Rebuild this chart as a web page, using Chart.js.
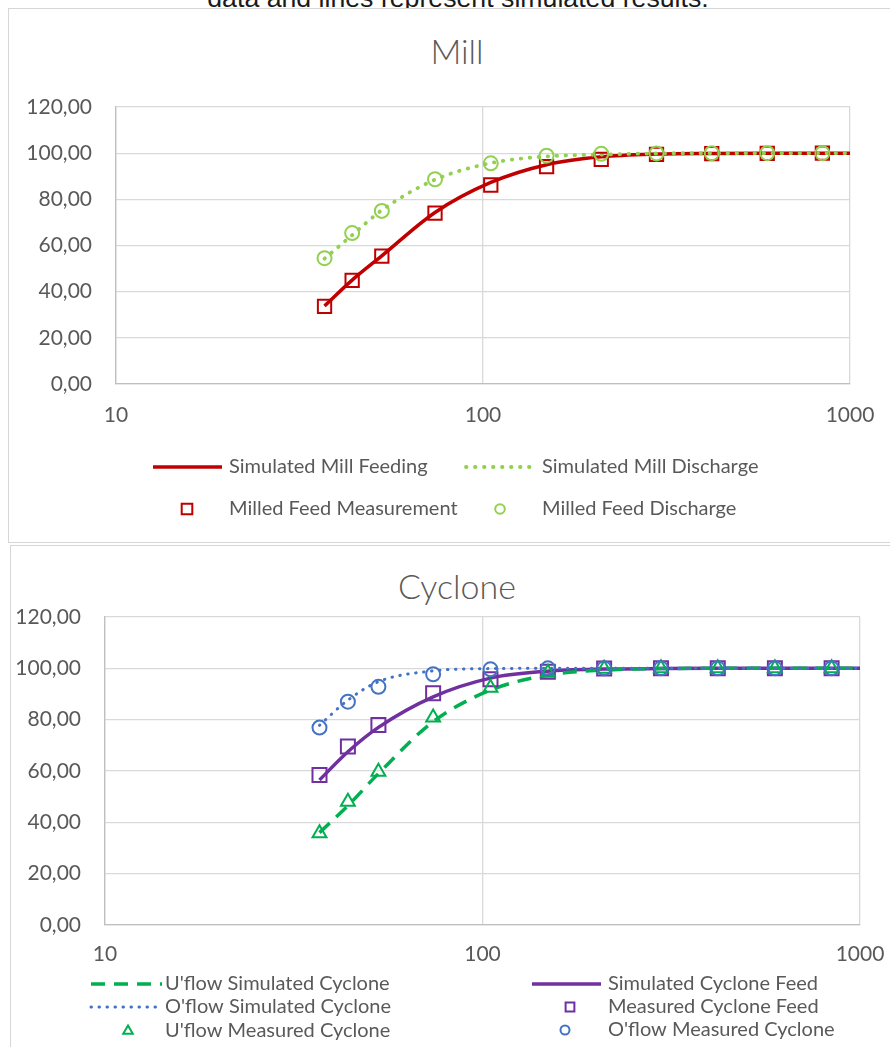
<!DOCTYPE html>
<html>
<head>
<meta charset="utf-8">
<script src="https://cdn.jsdelivr.net/npm/chart.js@4.4.0/dist/chart.umd.min.js"></script>
<style>
  body { margin: 0; background: #fff; width: 890px; height: 1047px; overflow: hidden; position: relative; }
  .caption { position: absolute; left: 0; width: 916px; top: -17px; text-align: center;
             font-family: "Liberation Sans", Arial, sans-serif; font-size: 26.7px; color: #1a1a1a; line-height: 30px; }
  .frame { position: absolute; border: 1px solid #D6D6D6; background: #fff; }
  .title { position: absolute; left: 0; width: 914px; text-align: center; font-family: Lato; font-weight: 300;
           font-size: 34px; line-height: 40px; color: #595959; }
  canvas { position: absolute; left: 0; }
</style>
</head>
<body>
<div class="caption">data and lines represent simulated results.</div>
<div class="frame" style="left:8px; top:8px; width:920px; height:533px;"></div>
<div class="frame" style="left:10px; top:545px; width:920px; height:560px;"></div>
<div class="title" style="top:31px">Mill</div>
<div class="title" style="top:566px">Cyclone</div>
<canvas id="mill" width="890" height="543" style="top:0"></canvas>
<canvas id="cyclone" width="890" height="504" style="top:543px"></canvas>
<script>
// particle sizes (Tyler series) - measured points, simulated curves run on to 1000
const sizes = [37, 44, 53, 74, 105, 149, 210, 297, 420, 595, 841];
const simSizes = [37, 44, 53, 74, 105, 149, 210, 297, 420, 595, 841, 1000];
const xTicks = [10, 100, 1000];

// Mill
const millFeedSim = [33.8, 45.0, 55.5, 74.3, 87.3, 95.0, 98.4, 99.6, 99.9, 100, 100, 100];
const millDischargeSim = [54.3, 64.5, 75.3, 88.5, 95.7, 98.6, 99.4, 99.9, 100, 100, 100, 100];
const millFeedMeas = [33.6, 44.9, 55.4, 74.0, 86.2, 94.2, 97.3, 99.5, 99.8, 99.9, 100];
const millDischargeMeas = [54.5, 65.4, 75.0, 88.7, 95.6, 98.9, 99.7, 99.9, 100, 100, 100];

// Cyclone
const uflowSim = [36.0, 46.5, 59.0, 79.2, 91.5, 97.4, 99.3, 99.9, 100, 100, 100, 100];
const cycFeedSim = [56.5, 67.5, 77.0, 88.9, 96.2, 98.9, 99.7, 99.9, 100, 100, 100, 100];
const oflowSim = [77.8, 87.6, 94.8, 99.0, 99.9, 100, 100, 100, 100, 100, 100, 100];
const cycFeedMeas = [58.4, 69.5, 77.9, 90.3, 95.7, 98.7, 99.9, 100, 100, 100, 100];
const uflowMeas = [35.7, 48.0, 59.7, 80.8, 92.4, 98.3, 99.8, 100, 100, 100, 100];
const oflowMeas = [76.9, 87.0, 92.8, 97.7, 99.6, 100, 100, 100, 100, 100, 100];

const textColor = '#595959';
const tickFont = { family: 'Lato', size: 21 };

function pts(xs, ys) {
    return ys.map((y, i) => ({ x: xs[i], y: y }));
}

// legend drawn in fixed rows/columns like the Excel one
const boxLegend = {
    id: 'boxLegend',
    afterDraw(chart, args, opts) {
        const ctx = chart.ctx;
        ctx.save();
        opts.items.forEach(it => {
            const ds = chart.data.datasets[it.index];
            if (ds.showLine) {
                ctx.beginPath();
                ctx.strokeStyle = ds.borderColor;
                ctx.lineWidth = ds.borderWidth;
                ctx.lineCap = ds.borderCapStyle || 'butt';
                ctx.setLineDash(ds.borderDash || []);
                ctx.moveTo(it.x0, it.y);
                ctx.lineTo(it.x1, it.y);
                ctx.stroke();
            } else {
                ctx.setLineDash([]);
                ctx.strokeStyle = ds.pointBorderColor;
                ctx.fillStyle = 'rgba(0,0,0,0)';
                ctx.lineWidth = ds.pointBorderWidth;
                Chart.helpers.drawPoint(ctx, { pointStyle: ds.pointStyle, radius: it.r, borderWidth: ds.pointBorderWidth, rotation: 0 }, it.x0, it.y);
            }
            ctx.setLineDash([]);
            ctx.font = opts.font;
            ctx.textBaseline = 'middle';
            ctx.textAlign = 'left';
            ctx.fillStyle = textColor;
            ctx.fillText(ds.label, it.tx, it.y);
        });
        ctx.restore();
    }
};

function makeOptions(cfg) {
    return {
        responsive: false,
        animation: false,
        devicePixelRatio: 1,
        layout: { padding: { left: 0, right: cfg.padRight, top: cfg.padTop, bottom: 0 } },
        scales: {
            x: {
                type: 'logarithmic',
                min: 10,
                max: 1000,
                afterBuildTicks: (scale) => { scale.ticks = xTicks.map(v => ({ value: v })); },
                afterFit: (scale) => {
                    scale.height = cfg.xHeight;
                    // labels overhang into the layout padding, don't let them shrink the plot
                    scale.paddingLeft = 0;
                    scale.paddingRight = 0;
                },
                grid: { color: '#D9D9D9', lineWidth: 1.3, drawTicks: false },
                border: { color: '#BFBFBF', width: 1.3 },
                ticks: { color: textColor, font: tickFont, padding: cfg.xPad, maxRotation: 0, autoSkip: false,
                         callback: (v) => String(v) }
            },
            y: {
                min: 0,
                max: 120,
                afterFit: (scale) => { scale.width = cfg.yWidth; },
                grid: { color: '#D9D9D9', lineWidth: 1.3, drawTicks: false },
                border: { color: '#BFBFBF', width: 1.3 },
                ticks: { stepSize: 20, color: textColor, font: tickFont, padding: 24,
                         callback: (v) => v.toFixed(2).replace('.', ',') }
            }
        },
        plugins: {
            legend: { display: false },
            tooltip: { enabled: false },
            boxLegend: { font: '20px Lato', items: cfg.legend }
        }
    };
}

new Chart(document.getElementById('mill'), {
    type: 'scatter',
    data: {
        datasets: [
            { label: 'Simulated Mill Feeding', data: pts(simSizes, millFeedSim), showLine: true,
              borderColor: '#C00000', borderWidth: 3.5, pointRadius: 0, cubicInterpolationMode: 'monotone', order: 4 },
            { label: 'Simulated Mill Discharge', data: pts(simSizes, millDischargeSim), showLine: true,
              borderColor: '#92D050', borderWidth: 3.8, borderDash: [0.5, 8.5], borderCapStyle: 'round',
              pointRadius: 0, cubicInterpolationMode: 'monotone', order: 3 },
            { label: 'Milled Feed Measurement', data: pts(sizes, millFeedMeas), showLine: false,
              pointStyle: 'rect', pointRadius: 9.4, pointBorderColor: '#C00000', pointBorderWidth: 2,
              pointBackgroundColor: 'rgba(0,0,0,0)', order: 2 },
            { label: 'Milled Feed Discharge', data: pts(sizes, millDischargeMeas), showLine: false,
              pointStyle: 'circle', pointRadius: 7, pointBorderColor: '#92D050', pointBorderWidth: 2,
              pointBackgroundColor: 'rgba(0,0,0,0)', order: 1 }
        ]
    },
    options: makeOptions({
        padRight: 40, padTop: 107, xHeight: 159, xPad: 19, yWidth: 116,
        legend: [
            { index: 0, x0: 153, x1: 222, y: 467, tx: 229 },
            { index: 1, x0: 466, x1: 536, y: 467, tx: 542 },
            { index: 2, x0: 187, y: 509, r: 7.5, tx: 229 },
            { index: 3, x0: 500, y: 509, r: 4.8, tx: 542 }
        ]
    }),
    plugins: [boxLegend]
});

new Chart(document.getElementById('cyclone'), {
    type: 'scatter',
    data: {
        datasets: [
            { label: "U'flow Simulated Cyclone", data: pts(simSizes, uflowSim), showLine: true,
              borderColor: '#00B050', borderWidth: 3.5, borderDash: [14, 9], pointRadius: 0,
              cubicInterpolationMode: 'monotone', order: 5 },
            { label: 'Simulated Cyclone Feed', data: pts(simSizes, cycFeedSim), showLine: true,
              borderColor: '#7030A0', borderWidth: 3.5, pointRadius: 0, cubicInterpolationMode: 'monotone', order: 6 },
            { label: "O'flow Simulated Cyclone", data: pts(simSizes, oflowSim), showLine: true,
              borderColor: '#4472C4', borderWidth: 3, borderDash: [0.5, 7.5], borderCapStyle: 'round',
              pointRadius: 0, cubicInterpolationMode: 'monotone', order: 4 },
            { label: 'Measured Cyclone Feed', data: pts(sizes, cycFeedMeas), showLine: false,
              pointStyle: 'rect', pointRadius: 9.9, pointBorderColor: '#7030A0', pointBorderWidth: 2,
              pointBackgroundColor: 'rgba(0,0,0,0)', order: 3 },
            { label: "U'flow Measured Cyclone", data: pts(sizes, uflowMeas), showLine: false,
              pointStyle: 'triangle', pointRadius: 8, pointBorderColor: '#00B050', pointBorderWidth: 2,
              pointBackgroundColor: 'rgba(0,0,0,0)', order: 2 },
            { label: "O'flow Measured Cyclone", data: pts(sizes, oflowMeas), showLine: false,
              pointStyle: 'circle', pointRadius: 7, pointBorderColor: '#4472C4', pointBorderWidth: 2,
              pointBackgroundColor: 'rgba(0,0,0,0)', order: 1 }
        ]
    },
    options: makeOptions({
        padRight: 30, padTop: 74, xHeight: 122, xPad: 17, yWidth: 105,
        legend: [
            { index: 0, x0: 91, x1: 162, y: 441, tx: 165 },
            { index: 1, x0: 532, x1: 601, y: 441, tx: 608 },
            { index: 2, x0: 91, x1: 162, y: 464, tx: 165 },
            { index: 3, x0: 570, y: 464, r: 6.2, tx: 608 },
            { index: 4, x0: 128, y: 488, r: 5.5, tx: 165 },
            { index: 5, x0: 565, y: 487, r: 4.5, tx: 608 }
        ]
    }),
    plugins: [boxLegend]
});
</script>
</body>
</html>
